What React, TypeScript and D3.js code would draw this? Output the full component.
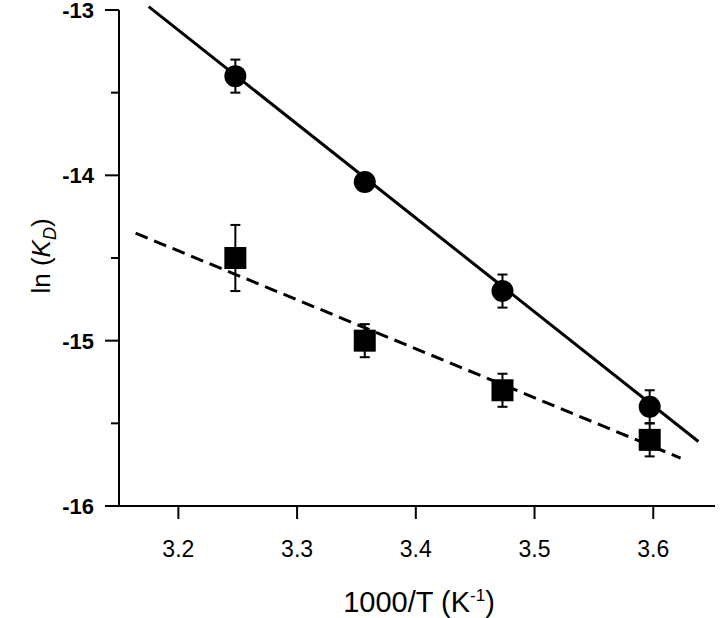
import React, { useEffect, useRef } from 'react';
import * as d3 from 'd3';

// 1000/T values of the measurements
const invTemp = [3.248, 3.357, 3.473, 3.597];
// circles (solid fit)
const circleLnKd = [-13.4, -14.04, -14.7, -15.4];
const circleErr = [0.1, 0.05, 0.1, 0.1];
// squares (dashed fit)
const squareLnKd = [-14.5, -15.0, -15.3, -15.6];
const squareErr = [0.2, 0.1, 0.1, 0.1];
// fitted lines, end points
const solidFit = [
  { x: 3.175, y: -12.98 },
  { x: 3.638, y: -15.61 },
];
const dashedFit = [
  { x: 3.164, y: -14.35 },
  { x: 3.623, y: -15.71 },
];
const xTicks = [3.2, 3.3, 3.4, 3.5, 3.6];
const yTicks = [-13, -14, -15, -16];
const yMinorTicks = [-13.5, -14.5, -15.5];

const App = () => {
  const svgRef = useRef<SVGSVGElement>(null);

  useEffect(() => {
    const width = 720;
    const height = 618;
    const left = 119;
    const right = 715;
    const top = 10;
    const bottom = 506;

    const svg = d3.select(svgRef.current).attr('width', width).attr('height', height);
    svg.selectAll('*').remove();

    const x = d3.scaleLinear().domain([3.15, 3.652]).range([left, right]);
    const y = d3.scaleLinear().domain([-16, -13]).range([bottom, top]);

    const font = 'Arial, "Liberation Sans", Helvetica, sans-serif';

    // axes
    svg.append('line')
      .attr('x1', left).attr('x2', left)
      .attr('y1', y(-13)).attr('y2', bottom)
      .attr('stroke', '#000').attr('stroke-width', 2);
    svg.append('line')
      .attr('x1', left).attr('x2', right)
      .attr('y1', bottom).attr('y2', bottom)
      .attr('stroke', '#000').attr('stroke-width', 2);

    // y ticks
    svg.selectAll('.ytick')
      .data(yTicks)
      .enter()
      .append('line')
      .attr('x1', left - 14).attr('x2', left)
      .attr('y1', (d) => y(d)).attr('y2', (d) => y(d))
      .attr('stroke', '#000').attr('stroke-width', 2);
    svg.selectAll('.yminor')
      .data(yMinorTicks)
      .enter()
      .append('line')
      .attr('x1', left - 8).attr('x2', left)
      .attr('y1', (d) => y(d)).attr('y2', (d) => y(d))
      .attr('stroke', '#000').attr('stroke-width', 2);
    svg.selectAll('.ylabel')
      .data(yTicks)
      .enter()
      .append('text')
      .attr('x', 94)
      .attr('y', (d) => y(d))
      .attr('dy', '0.36em')
      .attr('text-anchor', 'end')
      .attr('font-family', font)
      .attr('font-size', 22)
      .attr('font-weight', 'bold')
      .text((d) => d3.format('d')(d).replace('−', '-'));

    // x ticks
    svg.selectAll('.xtick')
      .data(xTicks)
      .enter()
      .append('line')
      .attr('x1', (d) => x(d)).attr('x2', (d) => x(d))
      .attr('y1', bottom).attr('y2', bottom + 13)
      .attr('stroke', '#000').attr('stroke-width', 2);
    svg.selectAll('.xlabel')
      .data(xTicks)
      .enter()
      .append('text')
      .attr('x', (d) => x(d))
      .attr('y', 557)
      .attr('text-anchor', 'middle')
      .attr('font-family', font)
      .attr('font-size', 23)
      .text((d) => d3.format('.1f')(d));

    // axis titles
    const xt = svg.append('text')
      .attr('x', 419)
      .attr('y', 612)
      .attr('text-anchor', 'middle')
      .attr('font-family', font)
      .attr('font-size', 29);
    xt.append('tspan').text('1000/T (K');
    xt.append('tspan').attr('font-size', 17).attr('dy', -11).text('-1');
    xt.append('tspan').attr('dy', 11).text(')');

    const yt = svg.append('text')
      .attr('transform', 'translate(50,256) rotate(-90)')
      .attr('text-anchor', 'middle')
      .attr('font-family', font)
      .attr('font-size', 26);
    yt.append('tspan').text('ln (');
    yt.append('tspan').attr('font-style', 'italic').text('K');
    yt.append('tspan').attr('font-style', 'italic').attr('font-size', 18).attr('dy', 6).text('D');
    yt.append('tspan').attr('dy', -6).text(')');

    // fit lines
    const line = d3.line<{ x: number; y: number }>()
      .x((d) => x(d.x))
      .y((d) => y(d.y));
    svg.append('path')
      .datum(solidFit)
      .attr('fill', 'none')
      .attr('stroke', '#000')
      .attr('stroke-width', 3)
      .attr('d', line);
    svg.append('path')
      .datum(dashedFit)
      .attr('fill', 'none')
      .attr('stroke', '#000')
      .attr('stroke-width', 3)
      .attr('stroke-dasharray', '13,7')
      .attr('d', line);

    // error bars
    const drawErr = (vals: number[], errs: number[]) => {
      vals.forEach((v, i) => {
        const cx = x(invTemp[i]);
        const g = svg.append('g').attr('stroke', '#000').attr('stroke-width', 2);
        g.append('line').attr('x1', cx).attr('x2', cx).attr('y1', y(v + errs[i])).attr('y2', y(v - errs[i]));
        g.append('line').attr('x1', cx - 5).attr('x2', cx + 5).attr('y1', y(v + errs[i])).attr('y2', y(v + errs[i]));
        g.append('line').attr('x1', cx - 5).attr('x2', cx + 5).attr('y1', y(v - errs[i])).attr('y2', y(v - errs[i]));
      });
    };
    drawErr(circleLnKd, circleErr);
    drawErr(squareLnKd, squareErr);

    // markers
    svg.selectAll('.circ')
      .data(circleLnKd)
      .enter()
      .append('circle')
      .attr('cx', (d, i) => x(invTemp[i]))
      .attr('cy', (d) => y(d))
      .attr('r', 11)
      .attr('fill', '#000');
    svg.selectAll('.sq')
      .data(squareLnKd)
      .enter()
      .append('rect')
      .attr('x', (d, i) => x(invTemp[i]) - 11)
      .attr('y', (d) => y(d) - 11)
      .attr('width', 22)
      .attr('height', 22)
      .attr('fill', '#000');
  }, []);

  return <svg ref={svgRef} style={{ position: 'absolute', left: 0, top: 0, background: '#fff' }}></svg>;
};

export default App;
